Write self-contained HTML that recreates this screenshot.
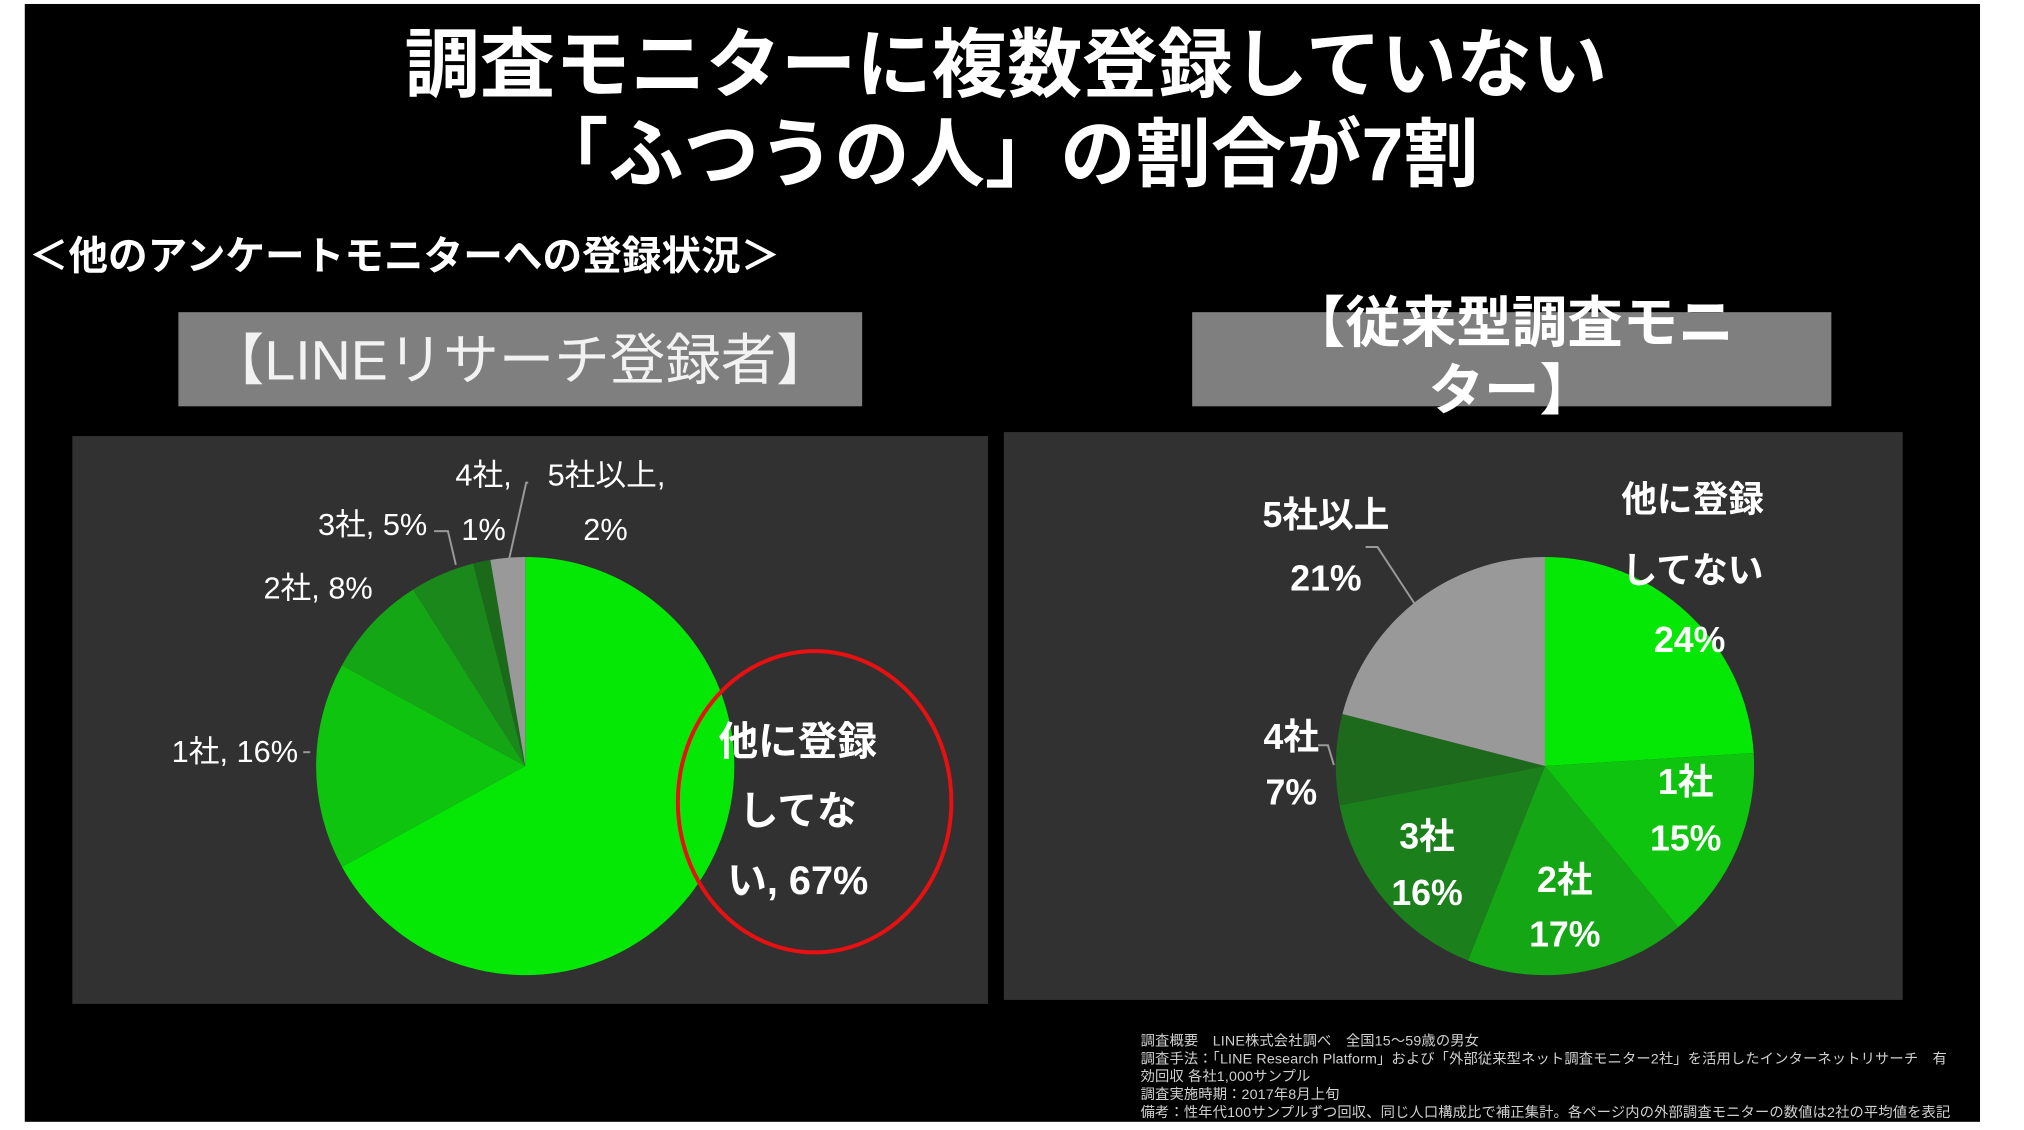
<!DOCTYPE html>
<html><head><meta charset="utf-8"><style>
html,body{margin:0;padding:0;background:#fff;}
body{width:2024px;height:1129px;position:relative;overflow:hidden;font-family:"Liberation Sans","Noto Sans CJK JP",sans-serif;}
#w{position:absolute;left:0;top:0;width:2024px;height:1140px;transform:scale(0.991);transform-origin:0 0;}
.t{position:absolute;color:#fff;white-space:nowrap;}
</style></head><body><div id="w">
<div style="position:absolute;left:25px;top:4px;width:1973px;height:1128px;background:#000;"></div>
<div class="t" style="left:0;width:2030px;text-align:center;top:22px;font-size:76px;font-weight:bold;line-height:90px;">調査モニターに複数登録していない<br>「ふつうの人」の割合が7割</div>
<div class="t" style="left:29px;top:234px;font-size:40px;font-weight:bold;line-height:50px;">＜他のアンケートモニターへの登録状況＞</div>
<div style="position:absolute;left:180px;top:315px;width:690px;height:95px;background:#7f7f7f;"></div>
<div class="t" style="left:180px;width:690px;text-align:center;top:329px;font-size:56px;line-height:70px;color:#f2f2f2;">【LINEリサーチ登録者】</div>
<div style="position:absolute;left:1203px;top:315px;width:645px;height:95px;background:#7f7f7f;"></div>
<div class="t" style="left:1203px;width:645px;text-align:center;top:292px;font-size:56px;font-weight:bold;line-height:68px;">【従来型調査モニ<br>ター】</div>
<div style="position:absolute;left:73px;top:440px;width:924px;height:573px;background:#313131;"></div>
<div style="position:absolute;left:1013px;top:436px;width:907px;height:573px;background:#313131;"></div>
<svg id="s" width="2024" height="1129" style="position:absolute;left:0;top:0;"></svg>
<div id="labels"></div>
<div class="t" style="left:1151px;top:1042px;font-size:14.4px;letter-spacing:0.15px;line-height:18px;color:#d0d0d0;">調査概要　LINE株式会社調べ　全国15～59歳の男女<br>調査手法：「LINE Research Platform」および「外部従来型ネット調査モニター2社」を活用したインターネットリサーチ　有<br>効回収 各社1,000サンプル<br>調査実施時期：2017年8月上旬<br>備考：性年代100サンプルずつ回収、同じ人口構成比で補正集計。各ページ内の外部調査モニターの数値は2社の平均値を表記</div>
</div>
<script>
var s=document.getElementById('s'),h='';
function pie(cx,cy,r,sl){var a=0;sl.forEach(function(d){var b=a+d[0];function p(t){t=t*Math.PI/180;return (cx+r*Math.sin(t)).toFixed(1)+','+(cy-r*Math.cos(t)).toFixed(1);}
h+='<path d="M'+cx+','+cy+' L'+p(a)+' A'+r+','+r+' 0 '+((b-a)>180?1:0)+' 1 '+p(b)+' Z" fill="'+d[1]+'"/>';a=b;});}
pie(530,773,211,[[241.2,'#05e805'],[57.6,'#0fc40f'],[28.8,'#15a615'],[18,'#1b881b'],[4.8,'#1a6a1a'],[9.6,'#999']]);
pie(1559,773,211,[[86.4,'#05e805'],[54,'#0fc40f'],[61.2,'#15a615'],[57.6,'#1b801b'],[25.2,'#1d6a1d'],[75.6,'#999']]);
h+='<ellipse cx="822" cy="809" rx="138" ry="152" fill="none" stroke="#e81010" stroke-width="4"/>';
h+='<polyline points="313,759 306,759" stroke="#999" stroke-width="2" fill="none"/>';
h+='<polyline points="438,536 452,536 460,570" stroke="#999" stroke-width="2" fill="none"/>';
h+='<polyline points="533,487 531,487 514,563" stroke="#999" stroke-width="2" fill="none"/>';
h+='<polyline points="1378,552 1390,552 1428,610" stroke="#999" stroke-width="2" fill="none"/>';
h+='<polyline points="1330,752 1340,752 1346,772" stroke="#999" stroke-width="2" fill="none"/>';
s.innerHTML=h;
var L=[[805,749,'他に登録',1],[805,819,'してな',1],[805,889,'い, 67%',1],
[237,759,'1社, 16%',0],[321,594,'2社, 8%',0],[376,530,'3社, 5%',0],[488,535,'1%',0],[488,480,'4社,',0],[612,480,'5社以上,',0],[611,535,'2%',0],
[1708,504,'他に登録',1],[1708,576,'してない',1],[1705,646,'24%',1],[1701,789,'1社',1],[1701,846,'15%',1],[1579,888,'2社',1],[1579,943,'17%',1],[1440,844,'3社',1],[1440,901,'16%',1],[1303,744,'4社',1],[1303,800,'7%',1],[1338,520,'5社以上',1],[1338,584,'21%',1]];
var o='';L.forEach(function(l){var fs=l[0]>1000?36:(l[3]?40:31);var fw=l[0]>1000||l[3]?'bold':'normal';
o+='<div class="t" style="left:'+(l[0]-150)+'px;width:300px;text-align:center;top:'+(l[1]-fs*0.65)+'px;font-size:'+fs+'px;line-height:'+(fs*1.3)+'px;font-weight:'+fw+'">'+l[2]+'</div>';});
document.getElementById('labels').innerHTML=o;
</script>
</body></html>
